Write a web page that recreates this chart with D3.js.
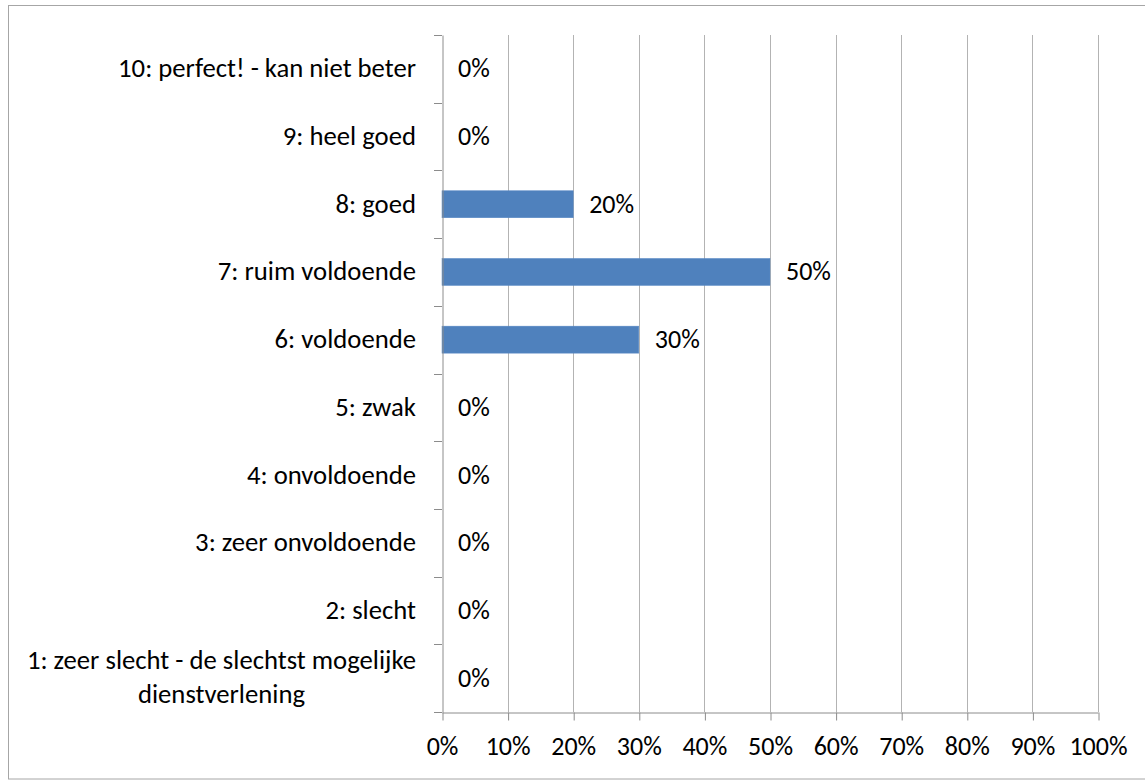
<!DOCTYPE html>
<html><head><meta charset="utf-8">
<script src="https://cdn.jsdelivr.net/npm/d3@7"></script>
<style>body{margin:0;background:#fff}svg{display:block}</style>
</head><body>
<script>
const categories = [
  "10: perfect! - kan niet beter",
  "9: heel goed",
  "8: goed",
  "7: ruim voldoende",
  "6: voldoende",
  "5: zwak",
  "4: onvoldoende",
  "3: zeer onvoldoende",
  "2: slecht",
  "1: zeer slecht - de slechtst mogelijke\ndienstverlening"
];
const values = [0, 0, 0.20, 0.50, 0.30, 0, 0, 0, 0, 0];
const xTicks = [0,0.1,0.2,0.3,0.4,0.5,0.6,0.7,0.8,0.9,1.0];

const W = 1145, H = 781;
const font = "Carlito, Lato, 'Liberation Sans', sans-serif";
const FS = 26;
const FSC = 26.7;
const svg = d3.select("body").append("svg").attr("width", W).attr("height", H);

svg.append("rect").attr("x", 8.5).attr("y", 5.5).attr("width", 1145).attr("height", 773.5)
  .attr("fill", "#fff").attr("stroke", "#a6a6a6").attr("stroke-width", 1);

const x = d3.scaleLinear().domain([0, 1]).range([442, 1098]);
const yb = d3.scaleBand().domain(categories).range([35, 712]);

// gridlines
svg.append("g").selectAll("line").data(xTicks.slice(1)).join("line")
  .attr("x1", d => Math.round(x(d)) + 0.5).attr("x2", d => Math.round(x(d)) + 0.5)
  .attr("y1", 35).attr("y2", 712)
  .attr("stroke", "#b3b3b3").attr("stroke-width", 1);

// bars
svg.append("g").selectAll("rect").data(values).join("rect")
  .attr("x", x(0)).attr("y", (d, i) => yb(categories[i]) + yb.bandwidth()/2 - 13.5)
  .attr("width", d => x(d) - x(0)).attr("height", 27)
  .attr("fill", "#4f81bd").attr("stroke", d => d > 0 ? "#5a8ac6" : "none").attr("stroke-width", 0.5);

// x axis
const xAxis = d3.axisBottom(x).tickValues(xTicks).tickFormat(d3.format(".0%")).tickSize(8).tickSizeOuter(0);
const gx = svg.append("g").attr("transform", "translate(0,712.5)").call(xAxis);
gx.select(".domain").attr("stroke", "#8c8c8c");
gx.selectAll(".tick line").attr("stroke", "#8c8c8c").attr("transform", "translate(0.5,0)");
gx.selectAll("text").attr("font-family", font).attr("font-size", FS).attr("fill", "#000").attr("dy", null).attr("y", 42);

// y axis
const yAxis = d3.axisLeft(yb).tickSize(0).tickFormat("");
const gy = svg.append("g").attr("transform", "translate(442.5,0)").call(yAxis);
gy.select(".domain").attr("stroke", "#8c8c8c");
gy.selectAll(".tick").remove();
svg.append("g").selectAll("line").data(d3.range(categories.length + 1)).join("line")
  .attr("x1", 434).attr("x2", 442)
  .attr("y1", i => Math.round(35 + i * yb.step()) + 0.5).attr("y2", i => Math.round(35 + i * yb.step()) + 0.5)
  .attr("stroke", "#8c8c8c");

// category labels
const lab = svg.append("g").selectAll("text").data(categories).join("text")
  .attr("font-family", font).attr("font-size", FSC).attr("fill", "#000")
  .attr("text-anchor", "end")
  .attr("x", 416)
  .attr("y", d => yb(d) + yb.bandwidth()/2 + 8.5);
lab.each(function(d) {
  const lines = d.split("\n");
  const t = d3.select(this);
  if (lines.length === 1) { t.text(d); return; }
  t.attr("text-anchor", "middle");
  const tmp = t.append("tspan").text(lines[0]);
  const w = tmp.node().getComputedTextLength();
  tmp.remove();
  const cx = 416 - w/2;
  const base = yb(d) + yb.bandwidth()/2 + 8 - 17;
  lines.forEach((ln, k) => t.append("tspan").attr("x", cx).attr("y", base + k*34).text(ln));
});

// value labels
svg.append("g").selectAll("text").data(values).join("text")
  .attr("font-family", font).attr("font-size", FS).attr("fill", "#000")
  .attr("x", d => x(d) + 16)
  .attr("y", (d, i) => yb(categories[i]) + yb.bandwidth()/2 + 8.5)
  .text(d => d3.format(".0%")(d));
</script>
</body></html>
